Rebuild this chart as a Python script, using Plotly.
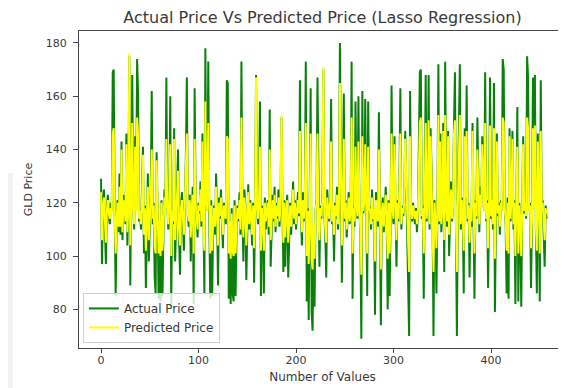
import plotly.graph_objects as go

actual = [
    129, 97, 121, 125, 110, 97, 118, 123, 115, 112,
    120, 117, 169, 170, 118, 85, 112, 121, 109, 131,
    108, 143, 106, 123, 120, 112, 146, 104, 119, 175,
    89, 121, 168, 119, 110, 145, 118, 174, 161, 113,
    116, 110, 122, 141, 101, 119, 88, 115, 131, 98,
    117, 124, 162, 112, 120, 92, 86, 139, 118, 84,
    112, 83, 121, 85, 108, 125, 118, 167, 119, 110,
    121, 160, 82, 117, 112, 148, 98, 114, 118, 140,
    108, 93, 119, 124, 113, 102, 121, 137, 167, 115,
    111, 123, 98, 119, 126, 82, 163, 121, 113, 107,
    120, 116, 128, 111, 146, 104, 86, 178, 122, 117,
    173, 115, 84, 121, 85, 112, 119, 108, 131, 116,
    89, 122, 114, 125, 110, 103, 120, 117, 112, 166,
    165, 84, 112, 82, 118, 86, 83, 121, 85, 110,
    119, 113, 124, 108, 173, 117, 98, 125, 119, 91,
    116, 127, 110, 121, 114, 104, 120, 90, 117, 168,
    118, 112, 124, 158, 85, 119, 113, 86, 122, 110,
    117, 121, 108, 155, 96, 118, 123, 113, 126, 109,
    120, 114, 125, 111, 118, 152, 113, 94, 121, 96,
    117, 123, 92, 114, 120, 108, 118, 128, 112, 121,
    110, 119, 124, 115, 166, 117, 104, 124, 113, 120,
    173, 83, 118, 76, 112, 163, 79, 72, 110, 81,
    117, 121, 167, 112, 96, 119, 114, 124, 170, 115,
    108, 92, 125, 118, 113, 121, 159, 112, 117, 98,
    120, 114, 126, 110, 119, 180, 116, 90, 122, 161,
    113, 121, 107, 118, 124, 112, 117, 173, 84, 119,
    111, 158, 120, 114, 160, 118, 107, 69, 162, 116,
    121, 159, 112, 85, 158, 119, 117, 110, 125, 113,
    118, 78, 124, 116, 111, 154, 120, 74, 117, 122,
    109, 119, 126, 114, 80, 121, 85, 115, 164, 117,
    112, 145, 118, 96, 121, 113, 127, 163, 110, 119,
    115, 121, 147, 126, 117, 92, 70, 162, 118, 113,
    120, 115, 112, 118, 109, 116, 142, 169, 170, 114,
    119, 84, 124, 168, 113, 122, 168, 110, 148, 126,
    116, 70, 121, 113, 86, 118, 172, 112, 146, 109,
    117, 150, 94, 173, 118, 111, 147, 100, 117, 128,
    113, 120, 149, 169, 112, 70, 121, 144, 172, 110,
    122, 115, 86, 148, 125, 164, 113, 120, 92, 118,
    111, 150, 117, 84, 121, 114, 152, 118, 109, 126,
    118, 145, 125, 117, 169, 113, 121, 88, 120, 167,
    114, 123, 110, 165, 79, 119, 146, 115, 120, 108,
    121, 117, 174, 170, 119, 112, 86, 122, 84, 148,
    113, 124, 147, 110, 121, 82, 116, 156, 83, 120,
    112, 81, 119, 145, 116, 121, 114, 175, 167, 117,
    120, 88, 113, 167, 118, 168, 110, 86, 146, 116,
    83, 166, 117, 121, 112, 96, 119, 114,
]

predicted = [
    124, 106, 119, 122, 113, 105, 117, 121, 116, 114,
    118, 116, 146, 148, 117, 101, 113, 120, 111, 126,
    111, 140, 109, 121, 119, 113, 142, 109, 118, 176,
    104, 120, 150, 118, 112, 141, 117, 152, 146, 114,
    117, 112, 120, 138, 108, 118, 102, 116, 126, 106,
    116, 121, 140, 114, 119, 104, 101, 136, 117, 101,
    113, 100, 120, 102, 111, 122, 118, 144, 118, 112,
    120, 142, 100, 117, 113, 144, 106, 115, 118, 132,
    110, 104, 118, 121, 114, 108, 120, 135, 146, 116,
    113, 121, 107, 118, 123, 101, 144, 120, 114, 110,
    119, 117, 125, 113, 143, 109, 102, 158, 121, 117,
    150, 116, 101, 119, 102, 113, 118, 111, 126, 117,
    104, 120, 115, 122, 112, 108, 119, 117, 114, 145,
    144, 101, 113, 99, 116, 102, 100, 119, 101, 112,
    118, 114, 121, 110, 152, 117, 107, 122, 118, 104,
    116, 124, 112, 120, 115, 108, 119, 103, 117, 167,
    118, 114, 121, 141, 102, 118, 114, 102, 120, 113,
    117, 120, 111, 140, 106, 118, 121, 114, 123, 111,
    119, 115, 122, 113, 118, 153, 114, 105, 120, 107,
    117, 121, 105, 115, 119, 111, 118, 125, 114, 120,
    112, 118, 121, 116, 147, 117, 109, 121, 114, 119,
    150, 100, 117, 97, 113, 146, 99, 95, 112, 99,
    117, 120, 146, 114, 106, 118, 115, 121, 171, 116,
    111, 105, 122, 118, 114, 120, 143, 113, 117, 108,
    119, 115, 123, 112, 118, 165, 117, 104, 120, 144,
    114, 120, 110, 117, 122, 113, 117, 152, 101, 118,
    113, 141, 119, 115, 143, 118, 110, 93, 145, 117,
    120, 142, 114, 101, 141, 118, 117, 112, 122, 114,
    118, 98, 121, 116, 113, 140, 119, 95, 117, 120,
    111, 118, 123, 115, 99, 120, 101, 116, 146, 117,
    114, 142, 118, 106, 120, 114, 124, 146, 112, 118,
    116, 120, 144, 123, 117, 105, 94, 145, 118, 114,
    119, 116, 114, 117, 112, 116, 140, 150, 152, 115,
    118, 101, 121, 150, 114, 120, 151, 112, 145, 123,
    116, 94, 120, 114, 103, 117, 153, 113, 143, 112,
    117, 147, 106, 153, 118, 113, 145, 108, 117, 125,
    114, 119, 146, 151, 113, 94, 120, 142, 153, 112,
    121, 116, 102, 145, 122, 147, 114, 119, 105, 118,
    113, 147, 117, 101, 120, 115, 140, 118, 112, 123,
    118, 142, 122, 117, 150, 114, 120, 103, 119, 149,
    115, 121, 112, 148, 99, 118, 143, 116, 119, 111,
    120, 117, 152, 150, 118, 114, 102, 120, 101, 145,
    114, 121, 144, 112, 120, 100, 117, 141, 101, 119,
    114, 100, 118, 142, 117, 120, 115, 152, 148, 117,
    119, 103, 114, 148, 118, 149, 112, 102, 143, 116,
    101, 147, 117, 120, 114, 106, 118, 116,
]

x_ticks = [0, 100, 200, 300, 400]
y_ticks = [80, 100, 120, 140, 160, 180]

x_actual = list(range(len(actual)))
x_pred = list(range(len(predicted)))

fig = go.Figure()
fig.add_trace(go.Scatter(x=x_actual, y=actual, mode="lines", name="Actual Price",
                         line=dict(color="#0a800a", width=2)))
fig.add_trace(go.Scatter(x=x_pred, y=predicted, mode="lines", name="Predicted Price",
                         line=dict(color="#ffff00", width=2)))

txt = "#3a3a3a"
axis_font = dict(family="DejaVu Sans", size=11, color=txt)
fig.update_layout(
    width=558, height=380,
    margin=dict(l=71, r=0, t=23, b=40),
    paper_bgcolor="white", plot_bgcolor="white",
    font=dict(family="DejaVu Sans", color=txt),
    title=dict(text="Actual Price Vs Predicted Price (Lasso Regression)",
               x=0.5, xref="paper", xanchor="center",
               y=0.974, yref="container", yanchor="middle",
               font=dict(family="DejaVu Sans", size=16, color=txt)),
    xaxis=dict(range=[-22.6, 476.9], tickvals=x_ticks, ticks="outside", ticklen=4,
               tickcolor="#444", showline=True, linecolor="#444", linewidth=1,
               mirror=True, showgrid=False, zeroline=False, tickfont=axis_font,
               ticklabelstandoff=-2,
               title=dict(text="Number of Values", standoff=6,
                          font=dict(family="DejaVu Sans", size=12, color=txt))),
    yaxis=dict(range=[65.5, 184.5], tickvals=y_ticks, ticks="outside", ticklen=5,
               tickcolor="#444", showline=True, linecolor="#444", linewidth=1,
               mirror=False, showgrid=False, zeroline=False, tickfont=axis_font,
               ticklabelstandoff=4,
               title=dict(text="GLD Price", standoff=10,
                          font=dict(family="DejaVu Sans", size=11, color=txt))),
    legend=dict(x=0.008, y=0.016, xanchor="left", yanchor="bottom",
                bgcolor="rgba(255,255,255,0.8)", bordercolor="#d0d0d0", borderwidth=1,
                font=dict(family="DejaVu Sans", size=12, color=txt),
                tracegroupgap=0, itemwidth=30),
    showlegend=True,
    shapes=[
        dict(type="rect", xref="paper", yref="paper", x0=-0.17, x1=-0.1355,
             y0=-0.13, y1=0.552, fillcolor="#f1f2f4", line=dict(width=0), layer="below"),
    ],
)

fig.write_html("out.html")
